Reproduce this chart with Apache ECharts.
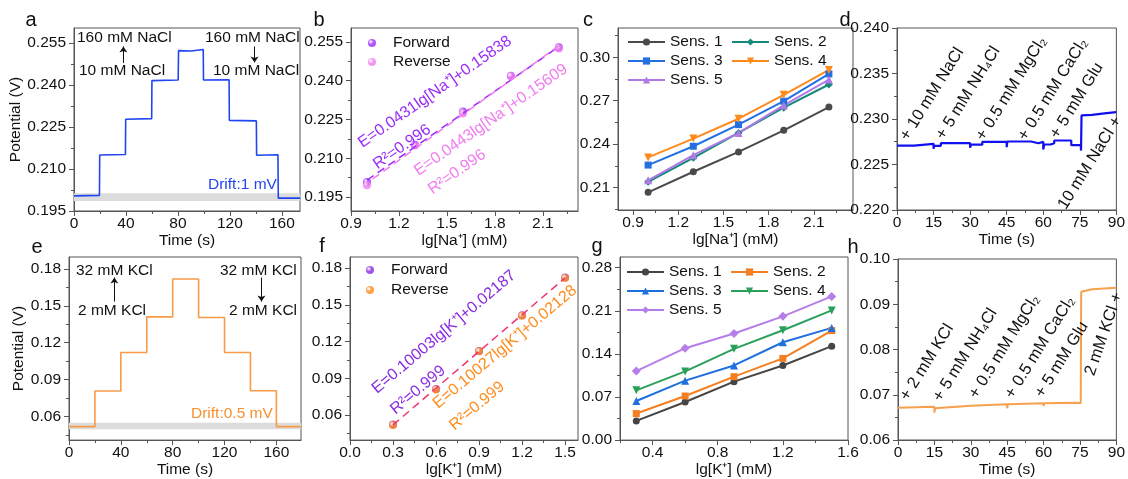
<!DOCTYPE html>
<html>
<head>
<meta charset="utf-8">
<script src="https://cdn.jsdelivr.net/npm/echarts@6.0.0/dist/echarts.min.js"></script>
<style>
html, body { margin: 0; padding: 0; background: #fff; }
#main { width: 1128px; height: 479px; }
</style>
</head>
<body>
<div id="main"></div>
<script>
// ---- a: Na+ step response (time in s, potential in V)
var aTime = [0, 19.6, 19.8, 39.6, 39.8, 59.8, 60, 80.2, 80.5, 90, 99.5, 99.7, 119.4, 119.6, 140.4, 140.6, 157, 157.3, 174];
var aPot = [0.2004, 0.2006, 0.2150, 0.2152, 0.2278, 0.2280, 0.2416, 0.2418, 0.2523, 0.2522, 0.2527, 0.2418, 0.2419, 0.2274, 0.2272, 0.2149, 0.2151, 0.1996, 0.1996];
var aBand = [0.1986, 0.2013];

// ---- b: calibration Na+
var naLog = [1.0, 1.3, 1.6, 1.9, 2.2];
var naForward = [0.2008, 0.2152, 0.2281, 0.2419, 0.2530];
var naReverse = [0.1996, 0.2149, 0.2273, 0.2418, 0.2525];
var naFitForward = [[1.0, 0.2015], [2.2, 0.2532]];
var naFitReverse = [[1.0, 0.2004], [2.2, 0.2535]];

// ---- c: 5 sensors Na+
var naSens1 = [0.2068, 0.2210, 0.2347, 0.2496, 0.2656];
var naSens2 = [0.2141, 0.2306, 0.2478, 0.2652, 0.2812];
var naSens3 = [0.2256, 0.2386, 0.2535, 0.2697, 0.2885];
var naSens4 = [0.2309, 0.2439, 0.2576, 0.2741, 0.2913];
var naSens5 = [0.2151, 0.2324, 0.2478, 0.2668, 0.2846];

// ---- d: selectivity Na+
var dTime = [0, 7, 7, 15, 15, 15.3, 18, 18, 30, 30, 30.3, 35, 35, 45, 45, 45.3, 55, 55, 58, 58, 60, 60, 60.4, 63, 63, 64.5, 64.5, 71.5, 71.5, 75.4, 75.5, 75.7, 80, 80, 86, 86, 90];
var dPot = [0.22708, 0.22708, 0.22727, 0.22727, 0.22672, 0.22705, 0.22705, 0.22734, 0.22734, 0.22683, 0.22718, 0.22718, 0.22749, 0.22749, 0.22690, 0.22753, 0.22753, 0.22734, 0.22734, 0.22749, 0.22749, 0.22664, 0.22720, 0.22720, 0.22734, 0.22734, 0.22764, 0.22764, 0.22712, 0.22712, 0.22653, 0.23039, 0.23045, 0.23065, 0.23065, 0.23076, 0.23076];

// ---- e: K+ step response
var eTime = [0, 20, 20, 40, 40, 60, 60, 80, 80, 100, 100, 120, 120, 140, 140, 160, 160, 179];
var ePot = [0.0517, 0.0517, 0.0807, 0.0807, 0.1120, 0.1120, 0.1410, 0.1410, 0.1718, 0.1718, 0.1405, 0.1405, 0.1120, 0.1120, 0.0808, 0.0808, 0.0517, 0.0517];
var eBand = [0.0495, 0.0549];

// ---- f: calibration K+
var kLog = [0.3, 0.6, 0.9, 1.2, 1.5];
var kForward = [0.0522, 0.0812, 0.1124, 0.1415, 0.1724];
var kReverse = [0.0518, 0.0808, 0.1120, 0.1410, 0.1720];
var kFit = [[0.3, 0.0519], [1.5, 0.1720]];

// ---- g: 5 sensors K+
var kSens1 = [0.0312, 0.0619, 0.0949, 0.1212, 0.1525];
var kSens2 = [0.0431, 0.0716, 0.1030, 0.1326, 0.1778];
var kSens3 = [0.0635, 0.0965, 0.1212, 0.1589, 0.1822];
var kSens4 = [0.0808, 0.1115, 0.1482, 0.1783, 0.2106];
var kSens5 = [0.1121, 0.1492, 0.1730, 0.2009, 0.2333];

// ---- h: selectivity K+
var hTime = [0, 15, 15, 15.3, 30, 45, 45, 45.3, 60, 60, 60.3, 73.5, 75.3, 75.5, 76, 80, 90];
var hPot = [0.06715, 0.06737, 0.06604, 0.06700, 0.06759, 0.06788, 0.06700, 0.06790, 0.06810, 0.06750, 0.06812, 0.06825, 0.06815, 0.09278, 0.09300, 0.09330, 0.09366];

// ---- tick labels
var timeTicks = [0, 40, 80, 120, 160];
var naPotTicks = [0.195, 0.210, 0.225, 0.240, 0.255];
var naLogTicks = [0.9, 1.2, 1.5, 1.8, 2.1];
var cPotTicks = [0.21, 0.24, 0.27, 0.30];
var selTimeTicks = [0, 15, 30, 45, 60, 75, 90];
var dPotTicks = [0.220, 0.225, 0.230, 0.235, 0.240];
var kPotTicks = [0.06, 0.09, 0.12, 0.15, 0.18];
var fLogTicks = [0.0, 0.3, 0.6, 0.9, 1.2, 1.5];
var gLogTicks = [0.4, 0.8, 1.2, 1.6];
var gPotTicks = [0.00, 0.07, 0.14, 0.21, 0.28];
var hPotTicks = [0.06, 0.07, 0.08, 0.09, 0.10];

var FONT = '"Liberation Sans", Arial, sans-serif';
var AX = '#555';
var FS = 15.5;

function pairs(xs, ys) {
  return xs.map(function (x, i) { return [x, ys[i]]; });
}

function minorOf(ticks, min, max) {
  var step = ticks[1] - ticks[0], out = [];
  for (var i = -1; i < ticks.length; i++) {
    var v = ticks[0] + (i + 0.5) * step;
    if (v >= min - 1e-9 && v <= max + 1e-9) out.push(v);
  }
  return out;
}

var grids = [], xAxes = [], yAxes = [], series = [], legends = [], graphics = [];

function axes(list, dim, g, o) {
  var isX = dim === 'x';
  list.push({
    type: 'value', gridIndex: g, min: o.min, max: o.max,
    position: isX ? 'bottom' : 'left',
    axisLine: { show: true, onZero: false, lineStyle: { color: AX, width: 1 } },
    axisTick: { show: true, length: 5, customValues: o.ticks, lineStyle: { color: AX } },
    axisLabel: {
      customValues: o.ticks, margin: isX ? 5 : 8, fontSize: FS, color: '#111', fontFamily: FONT,
      formatter: function (v) { return v.toFixed(o.dec); }
    },
    splitLine: { show: false },
    name: o.name || '', nameLocation: 'middle', nameGap: o.gap || 0,
    nameTextStyle: { fontSize: FS, color: '#111', fontFamily: FONT }
  });
  // second axis only for the short minor ticks
  list.push({
    type: 'value', gridIndex: g, min: o.min, max: o.max,
    position: isX ? 'bottom' : 'left',
    axisLine: { show: false },
    axisTick: { show: true, length: 3, customValues: minorOf(o.ticks, o.min, o.max), lineStyle: { color: AX } },
    axisLabel: { show: false },
    splitLine: { show: false }
  });
}

function panel(rect, xo, yo) {
  var g = grids.length;
  grids.push({ left: rect[0], top: rect[1], width: rect[2], height: rect[3], show: true, borderColor: AX, borderWidth: 1 });
  axes(xAxes, 'x', g, xo);
  axes(yAxes, 'y', g, yo);
  return { xAxisIndex: 2 * g, yAxisIndex: 2 * g };
}

function text(x, y, s, o) {
  o = o || {};
  graphics.push({
    type: 'text', x: x, y: y, rotation: (o.rot || 0) * Math.PI / 180, z: 100, silent: true,
    style: {
      text: s, fill: o.color || '#111', fontSize: o.size || FS, fontFamily: FONT,
      align: o.align || 'left', verticalAlign: 'middle'
    }
  });
}

function ball(c) {
  return new echarts.graphic.RadialGradient(0.35, 0.35, 0.75, [
    { offset: 0, color: '#ffffff' }, { offset: 0.45, color: c }, { offset: 1, color: c }
  ]);
}

function arrow(x, y0, y1) {
  return [{ coord: [x, y0] }, { coord: [x, y1] }];
}

var tail = function (n) { return n.split('|')[1]; };

// ---------- a
var pa = panel([74, 28, 226, 183],
  { min: 0, max: 174, ticks: timeTicks, dec: 0, name: 'Time (s)', gap: 17 },
  { min: 0.195, max: 0.2604, ticks: naPotTicks, dec: 3, name: 'Potential (V)', gap: 43 });
series.push(Object.assign({
  type: 'line', data: pairs(aTime, aPot), showSymbol: false, lineStyle: { color: '#2146f0', width: 1.6 },
  markArea: { silent: true, itemStyle: { color: '#dcdcdc' }, data: [[{ yAxis: aBand[0] }, { yAxis: aBand[1] }]] },
  markLine: {
    silent: true, symbol: ['none', 'arrow'], symbolSize: 6, label: { show: false },
    lineStyle: { color: '#111', width: 1, type: 'solid' },
    data: [arrow(38, 0.2479, 0.2538), arrow(139, 0.2538, 0.2481)]
  }
}, pa));

// ---------- b
var pb = panel([351, 28, 227, 183],
  { min: 0.9, max: 2.32, ticks: naLogTicks, dec: 1, name: 'lg[Na⁺] (mM)', gap: 17 },
  { min: 0.1896, max: 0.2604, ticks: naPotTicks, dec: 3 });
series.push(Object.assign({ type: 'line', data: naFitForward, showSymbol: false, lineStyle: { color: '#9a2cf5', width: 1.5, type: [8, 5] } }, pb));
series.push(Object.assign({ type: 'line', data: naFitReverse, showSymbol: false, lineStyle: { color: '#f07cf0', width: 1.5, type: [8, 5], dashOffset: 6 } }, pb));
series.push(Object.assign({ type: 'scatter', name: 'b|Forward', data: pairs(naLog, naForward), symbolSize: 8, itemStyle: { color: ball('#9a2cf5') } }, pb));
series.push(Object.assign({ type: 'scatter', name: 'b|Reverse', data: pairs(naLog, naReverse), symbolSize: 8, itemStyle: { color: ball('#f07cf0') } }, pb));
legends.push({
  left: 363, top: 29, orient: 'vertical', itemWidth: 32, itemHeight: 8, itemGap: 1, selectedMode: false,
  data: ['b|Forward', 'b|Reverse'], formatter: tail,
  textStyle: { fontSize: FS, fontFamily: FONT, color: '#111', lineHeight: 18 }
});

// ---------- c
var pc = panel([618, 28, 235, 182],
  { min: 0.8, max: 2.36, ticks: naLogTicks, dec: 1, name: 'lg[Na⁺] (mM)', gap: 17 },
  { min: 0.1946, max: 0.3202, ticks: cPotTicks, dec: 2 });
var cStyle = [
  ['c|Sens. 1', naSens1, '#4a4a4a', 'circle', 7, 0],
  ['c|Sens. 2', naSens2, '#16897b', 'diamond', 8, 0],
  ['c|Sens. 3', naSens3, '#2470e0', 'rect', 7, 0],
  ['c|Sens. 4', naSens4, '#ff8a1c', 'triangle', 8, 180],
  ['c|Sens. 5', naSens5, '#b07ae6', 'triangle', 8, 0]
];
cStyle.forEach(function (s) {
  series.push(Object.assign({
    type: 'line', name: s[0], data: pairs(naLog, s[1]), symbol: s[3], symbolSize: s[4], symbolRotate: s[5],
    lineStyle: { color: s[2], width: 2 }, itemStyle: { color: s[2] }
  }, pc));
});
legends.push({
  left: 622, top: 28, width: 215, itemWidth: 37, itemHeight: 9, itemGap: 1, selectedMode: false,
  data: cStyle.map(function (s) { return s[0]; }), formatter: tail,
  textStyle: { fontSize: FS, fontFamily: FONT, color: '#111', width: 60, lineHeight: 18 }
});

// ---------- d
var pd = panel([897, 28, 222, 182],
  { min: 0, max: 90, ticks: selTimeTicks, dec: 0, name: 'Time (s)', gap: 17 },
  { min: 0.22, max: 0.24, ticks: dPotTicks, dec: 3 });
series.push(Object.assign({ type: 'line', data: pairs(dTime, dPot), showSymbol: false, lineStyle: { color: '#1010f0', width: 2.2 } }, pd));

// ---------- e
var pe = panel([69, 257, 232, 185],
  { min: 0, max: 179, ticks: timeTicks, dec: 0, name: 'Time (s)', gap: 20 },
  { min: 0.0407, max: 0.1897, ticks: kPotTicks, dec: 2, name: 'Potential (V)', gap: 35 });
series.push(Object.assign({
  type: 'line', data: pairs(eTime, ePot), showSymbol: false, lineStyle: { color: '#f89a48', width: 1.6 },
  markArea: { silent: true, itemStyle: { color: '#dcdcdc' }, data: [[{ yAxis: eBand[0] }, { yAxis: eBand[1] }]] },
  markLine: {
    silent: true, symbol: ['none', 'arrow'], symbolSize: 6, label: { show: false },
    lineStyle: { color: '#111', width: 1, type: 'solid' },
    data: [arrow(35, 0.1534, 0.1730), arrow(148.5, 0.1730, 0.1534)]
  }
}, pe));

// ---------- f
var pf = panel([350, 257, 228, 185],
  { min: 0, max: 1.59, ticks: fLogTicks, dec: 1, name: 'lg[K⁺] (mM)', gap: 20 },
  { min: 0.0395, max: 0.1891, ticks: kPotTicks, dec: 2 });
series.push(Object.assign({ type: 'line', data: kFit, showSymbol: false, lineStyle: { color: '#f2336c', width: 1.5, type: [8, 5] } }, pf));
series.push(Object.assign({ type: 'scatter', name: 'f|Forward', data: pairs(kLog, kForward), symbolSize: 8, itemStyle: { color: ball('#8a2be2') } }, pf));
series.push(Object.assign({ type: 'scatter', name: 'f|Reverse', data: pairs(kLog, kReverse), symbolSize: 8, itemStyle: { color: ball('#ff8c1a') } }, pf));
legends.push({
  left: 361, top: 256, orient: 'vertical', itemWidth: 32, itemHeight: 8, itemGap: 2, selectedMode: false,
  data: ['f|Forward', 'f|Reverse'], formatter: tail,
  textStyle: { fontSize: FS, fontFamily: FONT, color: '#111', lineHeight: 18 }
});

// ---------- g
var pg = panel([620, 257, 228, 184],
  { min: 0.2, max: 1.6, ticks: gLogTicks, dec: 1, name: 'lg[K⁺] (mM)', gap: 19 },
  { min: 0, max: 0.2973, ticks: gPotTicks, dec: 2 });
var gStyle = [
  ['g|Sens. 1', kSens1, '#454545', 'circle', 7, 0],
  ['g|Sens. 2', kSens2, '#f57f20', 'rect', 7, 0],
  ['g|Sens. 3', kSens3, '#1f6fdc', 'triangle', 8, 0],
  ['g|Sens. 4', kSens4, '#2aa05a', 'triangle', 8, 180],
  ['g|Sens. 5', kSens5, '#b57ee8', 'diamond', 9, 0]
];
gStyle.forEach(function (s) {
  series.push(Object.assign({
    type: 'line', name: s[0], data: pairs(kLog, s[1]), symbol: s[3], symbolSize: s[4], symbolRotate: s[5],
    lineStyle: { color: s[2], width: 2 }, itemStyle: { color: s[2] }
  }, pg));
});
legends.push({
  left: 621, top: 258, width: 215, itemWidth: 37, itemHeight: 9, itemGap: 1, selectedMode: false,
  data: gStyle.map(function (s) { return s[0]; }), formatter: tail,
  textStyle: { fontSize: FS, fontFamily: FONT, color: '#111', width: 60, lineHeight: 18 }
});

// ---------- h
var ph = panel([898, 259, 223, 181],
  { min: 0, max: 90, ticks: selTimeTicks, dec: 0, name: 'Time (s)', gap: 19 },
  { min: 0.06, max: 0.10, ticks: hPotTicks, dec: 2 });
series.push(Object.assign({ type: 'line', data: pairs(hTime, hPot), showSymbol: false, lineStyle: { color: '#f7a04d', width: 2 } }, ph));

// ---------- annotations
[['a', 31, 20], ['b', 319, 20], ['c', 588, 20], ['d', 845, 20],
 ['e', 37, 247], ['f', 322, 246], ['g', 597, 246], ['h', 853, 247]].forEach(function (l) {
  text(l[1], l[2], l[0], { size: 20, align: 'center' });
});

text(77, 38, '160 mM NaCl'); text(79, 71, '10 mM NaCl');
text(205, 38, '160 mM NaCl'); text(213, 71, '10 mM NaCl');
text(208, 185, 'Drift:1 mV', { color: '#2146f0' });

text(76, 271, '32 mM KCl'); text(78, 311, '2 mM KCl');
text(220, 271, '32 mM KCl'); text(229, 311, '2 mM KCl');
text(191, 414, 'Drift:0.5 mV', { color: '#f7902d' });

text(435, 92, 'E=0.0431lg[Na⁺]+0.15838', { rot: 35, align: 'center', color: '#9a2cf5', size: 16 });
text(402, 147, 'R²=0.996', { rot: 35, align: 'center', color: '#9a2cf5', size: 16 });
text(491, 120, 'E=0.0443lg[Na⁺]+0.15609', { rot: 35, align: 'center', color: '#f07cf0', size: 16 });
text(457, 172, 'R²=0.996', { rot: 35, align: 'center', color: '#f07cf0', size: 16 });

text(444, 332, 'E=0.10003lg[K⁺]+0.02187', { rot: 40, align: 'center', color: '#8a2be2', size: 16 });
text(418, 390, 'R²=0.999', { rot: 40, align: 'center', color: '#8a2be2', size: 16 });
text(505, 347, 'E=0.10027lg[K⁺]+0.02128', { rot: 40, align: 'center', color: '#ff8c1a', size: 16 });
text(477, 406, 'R²=0.999', { rot: 40, align: 'center', color: '#ff8c1a', size: 16 });

var ROT = 16.5;
[[904, 139, '+ 10 mM NaCl'], [940, 138, '+ 5 mM NH₄Cl'], [980, 139, '+ 0.5 mM MgCl₂'],
 [1022, 139, '+ 0.5 mM CaCl₂'], [1054, 137, '+ 5 mM Glu']].forEach(function (t) {
  text(t[0], t[1], t[2], { rot: 58, size: ROT });
});
text(1118, 118, '10 mM NaCl +', { rot: 58, align: 'right', size: ROT });

[[904, 399, '+ 2 mM KCl'], [937, 400, '+ 5 mM NH₄Cl'], [973, 397, '+ 0.5 mM MgCl₂'],
 [1009, 397, '+ 0.5 mM CaCl₂'], [1039, 396, '+ 5 mM Glu']].forEach(function (t) {
  text(t[0], t[1], t[2], { rot: 58, size: ROT });
});
text(1118, 293, '2 mM KCl +', { rot: 71, align: 'right', size: ROT });

var chart = echarts.init(document.getElementById('main'));
chart.setOption({
  animation: false,
  backgroundColor: '#fff',
  textStyle: { fontFamily: FONT },
  grid: grids,
  xAxis: xAxes,
  yAxis: yAxes,
  legend: legends,
  series: series,
  graphic: graphics
});
</script>
</body>
</html>
